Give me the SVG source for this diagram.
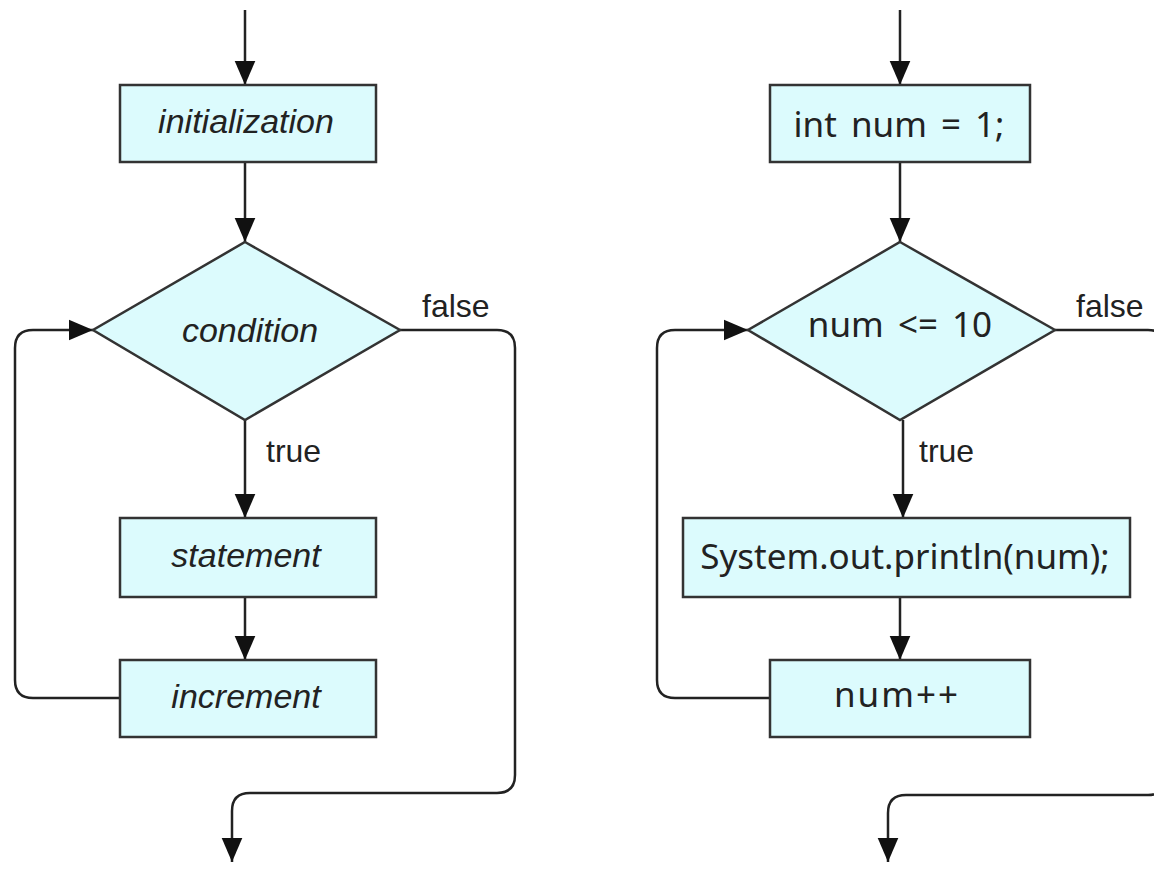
<svg xmlns="http://www.w3.org/2000/svg" width="1154" height="883" viewBox="0 0 1154 883">
  <style>
    .box { fill: #dcfbfd; stroke: #333; stroke-width: 2.5; }
    .wire { fill: none; stroke: #222; stroke-width: 2.5; }
    .gen { font-family: "Liberation Sans", Arial, sans-serif; font-size: 34px; fill: #222; font-style: italic; text-anchor: middle; }
    .code { font-family: "Noto Sans", "DejaVu Sans", sans-serif; font-size: 35px; fill: #222; text-anchor: middle; }
    .lbl { font-family: "Liberation Sans", Arial, sans-serif; font-size: 32px; fill: #222; }
  </style>
  <defs>
    <marker id="arrow" markerUnits="userSpaceOnUse" markerWidth="24" markerHeight="28" viewBox="0 0 28 24" refX="28" refY="12" orient="auto">
      <path d="M0,0 L28,12 L0,24 Z" fill="#111"/>
    </marker>
  </defs>

  <rect width="1154" height="883" fill="#fff"/>

  <!-- generic for-loop flowchart -->
  <g id="connectors-left">
    <path class="wire" d="M245,10 V85" marker-end="url(#arrow)"/>
    <path class="wire" d="M245,162 V242" marker-end="url(#arrow)"/>
    <path class="wire" d="M245,420 V518" marker-end="url(#arrow)"/>
    <path class="wire" d="M245,597 V660" marker-end="url(#arrow)"/>
    <path class="wire" d="M120,698 H33 Q15,698 15,680 V348 Q15,330 33,330 H93" marker-end="url(#arrow)"/>
    <path class="wire" d="M400,330 H497 Q515,330 515,348 V775 Q515,793 497,793 H250 Q232,793 232,811 V862" marker-end="url(#arrow)"/>
    <text class="lbl" x="422" y="317">false</text>
    <text class="lbl" x="266" y="462">true</text>
  </g>
  <g id="init">
    <rect class="box" x="120" y="85" width="256" height="77"/>
    <text class="gen" x="246" y="133">initialization</text>
  </g>
  <g id="condition">
    <polygon class="box" points="245,242 400,330 245,420 93,330"/>
    <text class="gen" x="250" y="342">condition</text>
  </g>
  <g id="statement">
    <rect class="box" x="120" y="518" width="256" height="79"/>
    <text class="gen" x="246" y="567">statement</text>
  </g>
  <g id="increment">
    <rect class="box" x="120" y="660" width="256" height="77"/>
    <text class="gen" x="246" y="708">increment</text>
  </g>

  <!-- concrete example: counting 1 to 10 -->
  <g id="connectors-right">
    <path class="wire" d="M900,10 V85" marker-end="url(#arrow)"/>
    <path class="wire" d="M900,162 V242" marker-end="url(#arrow)"/>
    <path class="wire" d="M903,420 V518" marker-end="url(#arrow)"/>
    <path class="wire" d="M900,597 V660" marker-end="url(#arrow)"/>
    <path class="wire" d="M770,698 H675 Q657,698 657,680 V348 Q657,330 675,330 H748" marker-end="url(#arrow)"/>
    <path class="wire" d="M1055,330 H1148 Q1166,330 1166,348 V777 Q1166,795 1148,795 H906 Q888,795 888,813 V862" marker-end="url(#arrow)"/>
    <text class="lbl" x="1076" y="317">false</text>
    <text class="lbl" x="919" y="462">true</text>
  </g>
  <g id="init-num">
    <rect class="box" x="770" y="85" width="260" height="77"/>
    <text class="code" x="899" y="137" word-spacing="5">int num = 1;</text>
  </g>
  <g id="cond-num">
    <polygon class="box" points="900,242 1055,330 900,420 748,330"/>
    <text class="code" x="900" y="337" word-spacing="5">num &lt;= 10</text>
  </g>
  <g id="print">
    <rect class="box" x="683" y="518" width="447" height="79"/>
    <text class="code" x="905" y="569">System.out.println(num);</text>
  </g>
  <g id="inc-num">
    <rect class="box" x="770" y="660" width="260" height="77"/>
    <text class="code" x="897" y="707" letter-spacing="2">num++</text>
  </g>
</svg>
